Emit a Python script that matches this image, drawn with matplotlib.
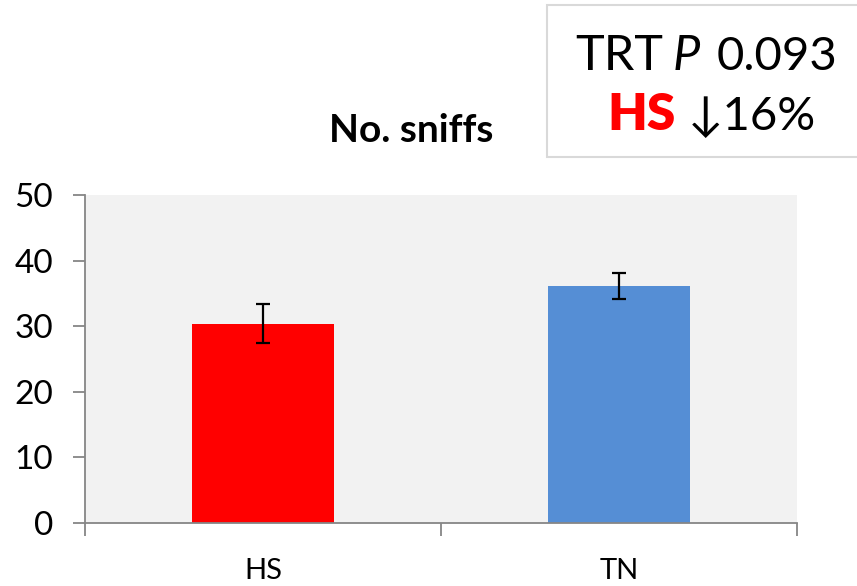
import matplotlib
matplotlib.use("Agg")
import matplotlib.pyplot as plt
from matplotlib.patches import Rectangle
from matplotlib.transforms import blended_transform_factory

plt.rcParams['font.family'] = ['Lato', 'DejaVu Sans']

# -------------------- Data --------------------
groups = ["HS", "TN"]
means = [30.4, 36.1]
errors = [3.0, 2.0]
bar_colors = ["#FF0000", "#558ED5"]
y_ticks = [0, 10, 20, 30, 40, 50]

W, H = 857, 586

def fx(px):
    return px / W

def fy(py):
    return 1 - py / H

# -------------------- Figure --------------------
fig = plt.figure(figsize=(W / 100, H / 100), dpi=100)
ax = fig.add_axes([fx(85), fy(523), 712 / W, 328 / H])
ax.set_facecolor("#F2F2F2")

x = list(range(len(groups)))
ax.bar(x, means, width=0.4, color=bar_colors, zorder=2)
ax.errorbar(x, means, yerr=errors, fmt="none", ecolor="black",
            elinewidth=1.6, capsize=5, capthick=1.6, zorder=3)

ax.set_xlim(-0.5, 1.5)
ax.set_ylim(0, 50)
ax.set_yticks(y_ticks)
ax.set_yticklabels([str(t) for t in y_ticks], fontsize=24)

# ticks between categories, category names placed below
ax.set_xticks([-0.5, 0.5, 1.5])
ax.set_xticklabels([])
trans = blended_transform_factory(ax.transData, fig.transFigure)
for xi, name in zip(x, groups):
    ax.text(xi, fy(579), name, transform=trans, fontsize=21,
            ha="center", va="baseline")

ax.tick_params(axis="x", length=9, width=1.3, color="#868686", direction="out")
ax.tick_params(axis="y", length=9, width=1.3, color="#868686", pad=14)

for s in ["top", "right"]:
    ax.spines[s].set_visible(False)
for s in ["left", "bottom"]:
    ax.spines[s].set_color("#868686")
    ax.spines[s].set_linewidth(1.3)

# -------------------- Titles / annotation box --------------------
fig.text(fx(411), fy(142), "No. sniffs", fontsize=28, fontweight="bold",
         ha="center", va="baseline")

fig.patches.append(Rectangle((fx(547), fy(157)), 1 - fx(547) + 0.01, (157 - 5) / H,
                             transform=fig.transFigure, facecolor="white",
                             edgecolor="#D9D9D9", linewidth=1.5))

fig.text(fx(575), fy(70), "TRT", fontsize=35, ha="left", va="baseline")
fig.text(fx(673), fy(70), "P", fontsize=35, style="italic", ha="left", va="baseline")
fig.text(fx(717), fy(70), "0.093", fontsize=34, ha="left", va="baseline")
fig.text(fx(676), fy(130), "HS", fontsize=37, fontweight="heavy", color="#FF0000",
         ha="right", va="baseline")
fig.text(fx(688), fy(130), "\u219316%", fontsize=34, ha="left", va="baseline")

fig.savefig("out.png", dpi=100)
